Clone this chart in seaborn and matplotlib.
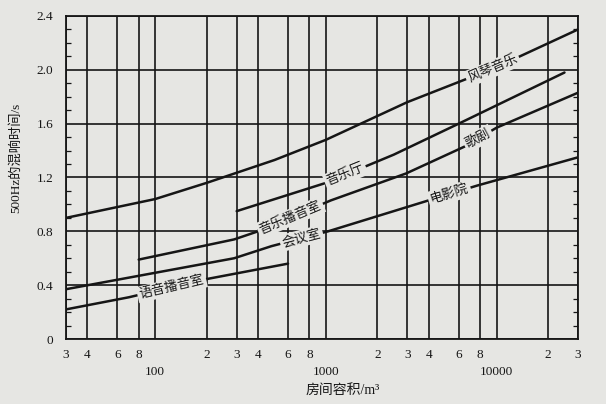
import numpy as np
import pandas as pd
import seaborn as sns
import matplotlib
matplotlib.use("Agg")
import matplotlib.pyplot as plt
from matplotlib.ticker import FixedLocator, MultipleLocator, NullLocator

# ---- data ----
volume_organ = [30, 100, 200, 500, 1000, 3000, 10000, 30000]
rt_organ = [0.90, 1.04, 1.16, 1.33, 1.48, 1.76, 2.02, 2.30]

volume_hall = [300, 1000, 2500, 6000, 25000]
rt_hall = [0.95, 1.16, 1.37, 1.60, 1.98]

volume_studio = [80, 290, 400, 1070, 2950, 6500, 10000, 30000]
rt_studio = [0.59, 0.74, 0.80, 1.03, 1.23, 1.43, 1.57, 1.83]

volume_meeting = [30, 290, 480, 1030, 4000, 7700, 30000]
rt_meeting = [0.37, 0.60, 0.69, 0.80, 1.03, 1.14, 1.35]

volume_speech = [30, 70, 190, 600]
rt_speech = [0.22, 0.31, 0.44, 0.56]

x_ticks = [30, 40, 60, 80, 100, 200, 300, 400, 600, 800, 1000,
           2000, 3000, 4000, 6000, 8000, 10000, 20000, 30000]
x_ticklabels = ["3", "4", "6", "8", "", "2", "3", "4", "6", "8", "",
                "2", "3", "4", "6", "8", "", "2", "3"]
decade_ticks = [100, 1000, 10000]
decade_labels = ["100", "1000", "10000"]
y_ticks = [0, 0.4, 0.8, 1.2, 1.6, 2.0, 2.4]
y_ticklabels = ["0", "0.4", "0.8", "1.2", "1.6", "2.0", "2.4"]

series = {
    "organ": (volume_organ, rt_organ),
    "hall": (volume_hall, rt_hall),
    "studio": (volume_studio, rt_studio),
    "meeting": (volume_meeting, rt_meeting),
    "speech": (volume_speech, rt_speech),
}
# (text, series, volume at label centre)
curve_labels = [
    ("风琴音乐", "organ", 9500),
    ("音乐厅", "hall", 1300),
    ("音乐播音室", "studio", 620),
    ("歌剧", "studio", 7800),
    ("会议室", "meeting", 720),
    ("电影院", "meeting", 5300),
    ("语音播音室", "speech", 125),
]

frames = [pd.DataFrame({"volume": v, "rt": r, "curve": k}) for k, (v, r) in series.items()]
df = pd.concat(frames, ignore_index=True)

# ---- style ----
bg = "#e6e6e3"
ink = "#161616"
sns.set_theme(style="white")
fam = ["Liberation Serif", "Noto Sans CJK SC", "DejaVu Sans"]
plt.rcParams["font.family"] = fam

fig = plt.figure(figsize=(6.06, 4.04), dpi=100, facecolor=bg)
ax = fig.add_axes([66 / 606, 1 - 339 / 404, 512 / 606, 323 / 404])
ax.set_facecolor(bg)

sns.lineplot(data=df, x="volume", y="rt", hue="curve", units="curve", estimator=None,
             palette={k: ink for k in series}, legend=False, linewidth=1.8,
             ax=ax, zorder=3)

ax.set_xscale("log")
ax.set_xlim(30, 30000)
ax.set_ylim(0, 2.4)

ax.xaxis.set_major_locator(FixedLocator(x_ticks))
ax.xaxis.set_minor_locator(NullLocator())
ax.set_xticklabels(x_ticklabels, family=fam, fontsize=9.5, color=ink)
ax.set_yticks(y_ticks)
ax.set_yticklabels(y_ticklabels, family=fam, fontsize=9.5, color=ink)
ax.yaxis.set_minor_locator(MultipleLocator(0.1))

ax.tick_params(axis="x", which="major", length=0, pad=7)
ax.tick_params(axis="y", which="major", length=0, pad=9)
ax.tick_params(axis="y", which="minor", direction="in", length=3.5, width=0.9,
               left=True, right=True, color=ink)

# second row of x labels (decades)
xt = ax.get_xaxis_transform()
for v, lab in zip(decade_ticks, decade_labels):
    ax.text(v, -0.102, lab, transform=xt, ha="center", va="center",
            fontsize=9.5, family=fam, color=ink, clip_on=False)

ax.grid(True, which="major", color=ink, linewidth=1.2)
ax.set_axisbelow(True)
for sp in ax.spines.values():
    sp.set_visible(True)
    sp.set_color(ink)
    sp.set_linewidth(1.3)

ax.set_xlabel("房间容积/m³", family=fam, fontsize=10, color=ink)
ax.set_ylabel("500Hz的混响时间/s", family=fam, fontsize=9.5, color=ink)
ax.xaxis.set_label_coords(0.54, -0.14)
ax.yaxis.set_label_coords(-0.086, 0.56)

# ---- curve labels sitting on the curves ----
fig.canvas.draw()
for text, key, vol in curve_labels:
    xs, ys = series[key]
    lx = np.log10(xs)
    def f(v):
        return np.interp(np.log10(v), lx, ys)
    y0 = f(vol)
    p1 = ax.transData.transform((vol / 10 ** 0.15, f(vol / 10 ** 0.15)))
    p2 = ax.transData.transform((vol * 10 ** 0.15, f(vol * 10 ** 0.15)))
    ang = np.degrees(np.arctan2(p2[1] - p1[1], p2[0] - p1[0]))
    ax.text(vol, y0, text, rotation=ang, rotation_mode="anchor", ha="center",
            va="center", fontsize=9.5, color=ink, family=fam, zorder=6,
            bbox=dict(facecolor=bg, edgecolor="none", pad=1.5))

fig.savefig("out.png", dpi=100, facecolor=bg)
